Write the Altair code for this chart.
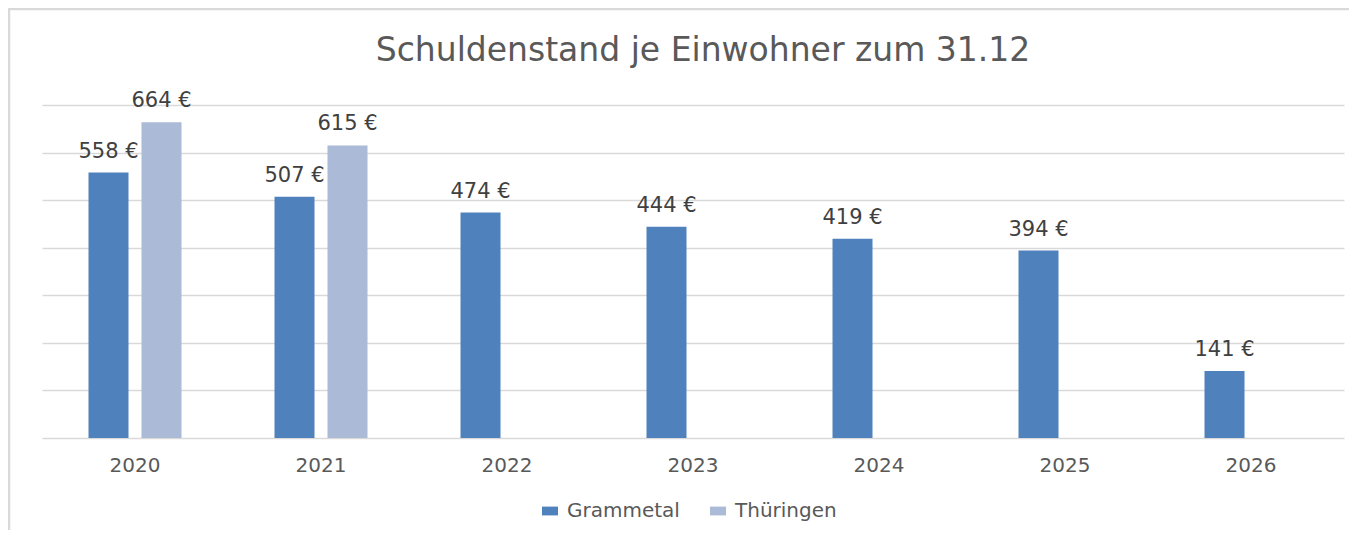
import altair as alt
import pandas as pd

years = ["2020", "2021", "2022", "2023", "2024", "2025", "2026"]
grammetal = [558, 507, 474, 444, 419, 394, 141]
thueringen_years = ["2020", "2021"]
thueringen = [664, 615]
series_names = ["Grammetal", "Thüringen"]
series_colors = ["#4F81BD", "#AABAD7"]
grid_values = [0, 100, 200, 300, 400, 500, 600, 700]

rows = []
for y, v in zip(years, grammetal):
    rows.append({"year": y, "series": "Grammetal", "value": v, "label": f"{v} €"})
for y, v in zip(thueringen_years, thueringen):
    rows.append({"year": y, "series": "Thüringen", "value": v, "label": f"{v} €"})
df = pd.DataFrame(rows)

W, H = 1302, 333
FONT = "DejaVu Sans"

x = alt.X("year:N", sort=years,
          scale=alt.Scale(paddingInner=0.5, paddingOuter=0.25),
          axis=alt.Axis(title=None, labelAngle=0, ticks=False, domain=False,
                        labelFont=FONT, labelFontSize=20, labelColor="#595959",
                        labelPadding=17, grid=False))
xo = alt.XOffset("series:N", sort=series_names,
                 scale=alt.Scale(domain=series_names, paddingInner=0.245, paddingOuter=0))
y = alt.Y("value:Q", scale=alt.Scale(domain=[0, 700], nice=False),
          axis=alt.Axis(title=None, values=grid_values, labels=False, ticks=False,
                        domain=False, grid=True, gridColor="#D9D9D9", gridWidth=1.6))

bars = alt.Chart(df).mark_bar().encode(
    x=x, xOffset=xo, y=y,
    color=alt.Color("series:N", scale=alt.Scale(domain=series_names, range=series_colors),
                    legend=alt.Legend(title=None, orient="none", direction="horizontal",
                                      legendX=498, legendY=396,
                                      symbolType="M-1,-0.55H1V0.55H-1Z", symbolSize=256,
                                      symbolStrokeWidth=0, symbolOpacity=1,
                                      labelFont=FONT, labelFontSize=20, labelColor="#595959",
                                      labelOffset=7, columnPadding=28))
)

labels = alt.Chart(df).mark_text(font=FONT, fontSize=21, color="#404040",
                                 baseline="alphabetic", dy=-15).encode(
    x=x, xOffset=xo, y=y, text="label:N"
)

one = alt.Data(values=[{"k": 1}])
top_border = alt.Chart(one).mark_rule(color="#D9D9D9", strokeWidth=2.5).encode(
    x=alt.value(-34), x2=alt.value(W + 5), y=alt.value(-96)
)
left_border = alt.Chart(one).mark_rule(color="#D9D9D9", strokeWidth=2.5).encode(
    x=alt.value(-33), y=alt.value(-96), y2=alt.value(H + 100)
)

chart = alt.layer(top_border, left_border, bars, labels).properties(
    width=W, height=H,
    title=alt.TitleParams("Schuldenstand je Einwohner zum 31.12", font=FONT, fontSize=33,
                          fontWeight="normal", color="#595959", baseline="alphabetic",
                          offset=-86, dx=10),
    autosize=alt.AutoSizeParams(type="none"),
    padding={"left": 34, "top": 97, "right": 5, "bottom": 92},
).configure_view(stroke=None)

chart.save("out.html", embed_options={"renderer": "svg", "actions": False})
